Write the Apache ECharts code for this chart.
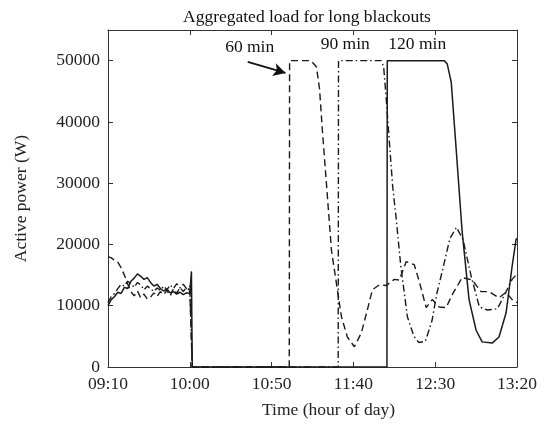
<!DOCTYPE html>
<html><head><meta charset="utf-8">
<script src="https://cdn.jsdelivr.net/npm/echarts@6/dist/echarts.min.js"></script>
<style>html,body{margin:0;padding:0;background:#fff}#c{width:552px;height:424px}</style>
</head><body><div id="c"></div>
<script>
// minutes after 09:10
const xTickLabels = ['09:10','10:00','10:50','11:40','12:30','13:20'];
const titleText = 'Aggregated load for long blackouts';
const seriesNames = ['60 min','90 min','120 min'];

const tPre = [0,2,4,6,8,10,12,14,16,18,20,22,24,26,28,30,32,34,36,38,40,42,44,46,48,50,51,51.5];

const p60Pre = [18000,17800,17400,17100,16200,15000,13600,12300,11600,12400,11300,11900,11100,11400,12100,11500,12300,11800,12500,11600,12800,12000,13000,12300,13000,12500,12800,0];
const t60Post = [110.8,111,124,127.4,129.3,131.1,133.5,136.6,139.6,142.7,146.3,150.6,154.9,158.5,161.6,165.9,170.1,175,178,182.3,187.2,190.2,194.5,198.2,202.4,206.7,210.4,216.5,222.6,228,232.9,239,243.3,247,250];
const p60Post = [0,50000,50000,49000,45400,38400,30000,19000,13700,8200,4900,3300,5600,9300,12600,13400,13300,14300,14200,17200,16700,14000,9700,11000,9800,9700,11800,14600,14200,12300,12300,11300,12200,11000,10500];

const p90Pre = [10500,11500,12000,12800,13500,13200,14000,13600,13000,13800,13400,12600,13200,12800,12300,12900,12500,13200,12600,13400,12800,13600,12900,13500,12800,13200,13000,0];
const t90Post = [140.7,140.9,167,168.5,170,172,174,176,179,183,187,190,194,198,201,205,209,213,217,222,227,232,238,243,247,250];
const p90Post = [0,50000,50000,49000,44000,36700,29500,24600,16400,8200,5000,4000,4200,7500,12000,16400,21000,22800,20800,14800,9800,9300,9500,12100,14300,15200];

const p120Pre = [10000,11000,11500,12200,12000,13000,12800,14000,14500,15200,14800,14300,14600,13800,13200,13500,12800,12400,12700,12100,12300,11900,12200,11800,12100,12000,15600,0];
const t120Post = [170.5,170.7,205.5,207.3,209.8,212.8,216.5,220.7,225,228.7,234.8,239,243.3,247,249.4,250];
const p120Post = [0,50000,50000,49500,46500,35600,22000,11000,6000,4100,3900,4900,8800,16400,20800,21000];

// annotation text anchors (time, power) and arrow (from, to)
const annoT = [86.6,145,189];
const annoP = [52100,52600,52600];
const arrowFrom = [85.4,49800];
const arrowTo = [108.5,48000];

function zip(ts, ps){ return ts.map((t,i)=>[t,ps[i]]); }
const d60 = zip(tPre,p60Pre).concat(zip(t60Post,p60Post));
const d90 = zip(tPre,p90Pre).concat(zip(t90Post,p90Post));
const d120 = zip(tPre,p120Pre).concat(zip(t120Post,p120Post));

const F = 'Liberation Serif';
const FS = 17.5;
const C = '#1a1a1a';
const chart = echarts.init(document.getElementById('c'));
const axisCommon = {
  axisLine:{show:true,onZero:false,lineStyle:{color:'#333',width:1}},
  axisTick:{show:true,inside:true,length:5,lineStyle:{color:'#333'}},
  splitLine:{show:false}
};
chart.setOption({
  animation:false,
  backgroundColor:'#fff',
  title:{text:titleText,left:178,top:3,textStyle:{fontFamily:F,fontSize:FS,fontWeight:'normal',color:'#111'}},
  grid:{left:108,right:35,top:30,bottom:57,containLabel:false,outerBoundsMode:'none'},
  xAxis:[
    Object.assign({type:'value',min:0,max:250,interval:50,position:'bottom',
      axisLabel:{formatter:v=>xTickLabels[Math.round(v/50)],fontFamily:F,fontSize:FS,color:'#222',margin:8},
      name:'Time (hour of day)',nameLocation:'middle',nameGap:34,
      nameTextStyle:{fontFamily:F,fontSize:FS,color:'#222',padding:[0,0,0,32]}},axisCommon),
    Object.assign({type:'value',min:0,max:250,interval:50,position:'top',axisLabel:{show:false}},axisCommon)
  ],
  yAxis:[
    Object.assign({type:'value',min:0,max:55000,interval:10000,position:'left',
      axisLabel:{formatter:v=>(v%10000===0?String(v):''),fontFamily:F,fontSize:FS,color:'#222',margin:8,showMaxLabel:false},
      name:'Active power (W)',nameLocation:'middle',nameGap:78,
      nameTextStyle:{fontFamily:F,fontSize:FS,color:'#222',padding:[0,0,0,0]}},axisCommon),
    Object.assign({type:'value',min:0,max:55000,interval:10000,position:'right',axisLabel:{show:false}},axisCommon)
  ],
  series:[
    {name:seriesNames[0],type:'line',data:d60,symbol:'none',
     lineStyle:{color:C,width:1.4,type:[7,4]},
     markLine:{silent:true,symbol:['none','arrow'],symbolSize:[10,12],
       lineStyle:{type:'solid',color:'#111',width:1.6},label:{show:false},
       data:[[{coord:arrowFrom},{coord:arrowTo}]]},
     markPoint:{silent:true,symbol:'circle',symbolSize:1,itemStyle:{color:'rgba(0,0,0,0)'},
       label:{show:true,position:'inside',formatter:'{b}',fontFamily:F,fontSize:FS,color:'#111'},
       data:seriesNames.map((n,i)=>({name:n,coord:[annoT[i],annoP[i]]}))}},
    {name:seriesNames[1],type:'line',data:d90,symbol:'none',
     lineStyle:{color:C,width:1.4,type:[7,3,1.5,3]}},
    {name:seriesNames[2],type:'line',data:d120,symbol:'none',
     lineStyle:{color:C,width:1.5,type:'solid'}}
  ]
});
</script></body></html>
